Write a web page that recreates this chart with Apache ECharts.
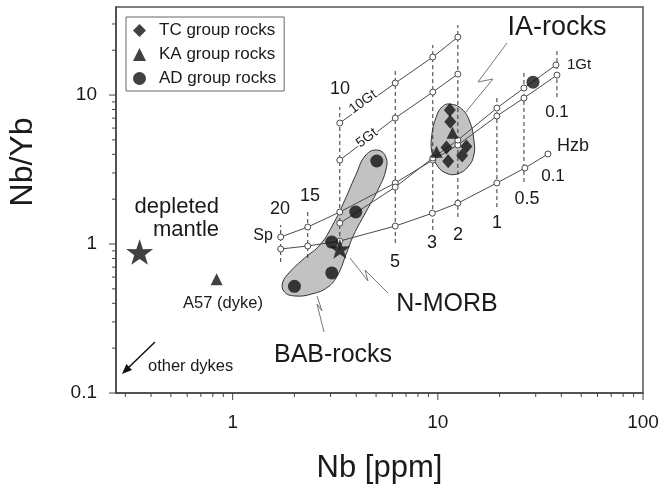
<!DOCTYPE html>
<html><head><meta charset="utf-8">
<script src="https://cdn.jsdelivr.net/npm/echarts@6/dist/echarts.min.js"></script>
<style>html,body{margin:0;padding:0;background:#fff}#c{width:664px;height:490px}</style>
</head><body><div id="c"></div>
<script>
const FONT = '"Liberation Sans", Arial, Helvetica, sans-serif';
const INK = '#1a1a1a';

// ---- sample data: [Nb ppm, Nb/Yb] ----
const tcRocks = [[11.44,7.93],[11.5,6.62],[11.02,4.44],[13.77,4.51],[13.14,3.93],[11.23,3.59]];
const kaRocks = [[11.8,5.58],[9.86,4.16],[0.835,0.58]];
const adRocks = [[2.0,0.52],[3.04,0.64],[3.04,1.03],[3.98,1.64],[5.04,3.61],[29.1,12.2]];
const depletedMantle = [[0.352,0.884]];
const nMorb = [[3.33,0.93]];

// ---- melting model curves ----
const spCurve   = [[1.714,1.114],[2.322,1.30],[3.327,1.64],[6.2,2.57],[9.45,3.66],[12.52,4.62],[19.4,7.23],[26.28,9.55],[38.07,13.62]];
const gt1Curve  = [[3.327,1.38],[6.2,2.41],[9.45,3.78],[12.52,4.99],[19.4,8.18],[26.28,11.14],[37.63,15.9]];
const gt5Curve  = [[3.327,3.66],[6.2,7.01],[9.45,10.47],[12.52,13.83]];
const gt10Curve = [[3.327,6.49],[6.2,12.04],[9.45,17.99],[12.52,24.51]];
const hzbCurve  = [[1.714,0.926],[2.322,0.97],[3.327,1.047],[6.2,1.32],[9.4,1.61],[12.52,1.88],[19.4,2.57],[26.57,3.24],[34.4,4.02]];

// melt-fraction (%) iso-lines: Nb position and Nb/Yb span
const meltFractions = ['20','15','10','5','3','2','1','0.5','0.1'];
const meltNb        = [1.714, 2.322, 3.327, 6.2, 9.45, 12.52, 19.4, 26.28, 38.07];
const meltTop       = [1.34, 1.69, 8.31, 15.18, 21.66, 29.5, 10.0, 14.72, 20.67];
const meltBottom    = [0.757, 0.805, 0.912, 1.016, 1.24, 1.52, 1.77, 2.61, 9.69];

// field outlines
const babField = [[5.10,4.27],[5.58,3.84],[5.58,3.14],[5.10,2.30],[4.46,1.64],[3.89,1.15],[3.56,0.844],[3.25,0.619],[2.91,0.514],[2.43,0.462],[2.01,0.448],[1.79,0.476],[1.75,0.547],[1.90,0.649],[2.24,0.805],[2.66,0.985],[3.07,1.34],[3.52,1.97],[3.98,2.90],[4.46,3.96]];
const iaField  = [[11.44,8.70],[13.09,8.05],[14.33,6.59],[14.98,4.99],[14.98,3.96],[14.01,3.29],[12.38,2.95],[10.94,3.00],[9.89,3.39],[9.35,4.14],[9.35,5.39],[9.78,7.01],[10.46,8.31]];

// axes
const xMin = 0.27, xMax = 100, yMin = 0.1, yMax = 39;
const xMajorTicks = [1, 10, 100];
const xMinorTicks = [0.3,0.4,0.5,0.6,0.7,0.8,0.9,2,3,4,5,6,7,8,9,20,30,40,50,60,70,80,90];
const yMajorTicks = [0.1, 1, 10];
const yMinorTicks = [0.2,0.3,0.4,0.5,0.6,0.7,0.8,0.9,2,3,4,5,6,7,8,9,20,30];

const STAR = 'path://M50,0 L61.8,35.1 L97.6,34.5 L69,56.7 L79.4,90.5 L50,70 L20.6,90.5 L31,56.7 L2.4,34.5 L38.2,35.1 Z';

function logFmt(v){
  const l = Math.log10(v);
  if (Math.abs(l - Math.round(l)) > 1e-6) return '';
  const r = Math.round(l);
  return r < 0 ? '0.' + '0'.repeat(-r - 1) + '1' : String(Math.pow(10, r));
}

const tickData = [];
xMinorTicks.forEach(v => tickData.push([v, yMin, 0]));
xMajorTicks.forEach(v => tickData.push([v, yMin, 1]));
yMinorTicks.forEach(v => tickData.push([xMin, v, 2]));
yMajorTicks.forEach(v => tickData.push([xMin, v, 3]));

function fieldSeries(outline){
  return {
    type:'custom', coordinateSystem:'cartesian2d', silent:true, z:1, clip:false,
    encode:{x:0, y:1}, data:[outline[0]],
    renderItem(params, api){
      const pts = outline.map(p => api.coord(p));
      return {type:'polygon', shape:{points:pts, smooth:0.45}, style:{fill:'#c2c2c2', stroke:'#333', lineWidth:1}};
    }
  };
}
function curveSeries(data){
  return {type:'line', data, silent:true, z:3, symbol:'circle', symbolSize:6,
    itemStyle:{color:'#fff', borderColor:'#4a4a4a', borderWidth:1},
    lineStyle:{color:'#4a4a4a', width:1}, animation:false};
}
const dashSeries = meltNb.map((nb, i) => ({
  type:'line', silent:true, z:2, symbol:'none', animation:false,
  data:[[nb, meltBottom[i]], [nb, meltTop[i]]],
  lineStyle:{color:'#333', width:1, type:[4,3]}
}));

function txt(x, y, s, size, extra){
  return Object.assign({type:'text', x, y, silent:true, z:50,
    style:Object.assign({text:s, fontSize:size, fontFamily:FONT, fill:INK, align:'center', verticalAlign:'middle'}, extra && extra.style || {})},
    extra && extra.el || {});
}
function leader(points){
  return {type:'polyline', silent:true, z:40, shape:{points}, style:{stroke:'#777', lineWidth:1, fill:null}};
}

const chart = echarts.init(document.getElementById('c'), null, {renderer:'canvas'});
chart.setOption({
  animation:false,
  backgroundColor:'#fff',
  grid:{left:116, right:21, top:7, bottom:97, show:true, borderColor:'#555', borderWidth:1.5, outerBoundsMode:'none'},
  legend:{
    data:['TC group rocks','KA group rocks','AD group rocks'],
    orient:'vertical', left:126, top:17, selectedMode:false,
    borderColor:'#666', borderWidth:1, padding:[5,8,4,7], itemGap:7,
    itemWidth:13, itemHeight:13,
    textStyle:{fontSize:17, color:INK, fontFamily:FONT, padding:[0,0,0,8]}
  },
  xAxis:{type:'log', logBase:10, min:xMin, max:xMax,
    name:'Nb [ppm]', nameLocation:'middle', nameGap:60,
    nameTextStyle:{fontSize:31, color:INK, fontFamily:FONT},
    axisLine:{lineStyle:{color:'#444', width:1.5}}, axisTick:{show:false}, splitLine:{show:false},
    axisLabel:{formatter:logFmt, fontSize:19, color:INK, fontFamily:FONT, margin:20}},
  yAxis:{type:'log', logBase:10, min:yMin, max:yMax,
    axisLine:{lineStyle:{color:'#444', width:1.5}}, axisTick:{show:false}, splitLine:{show:false},
    axisLabel:{formatter:logFmt, fontSize:19, color:INK, fontFamily:FONT, margin:19}},
  series:[
    fieldSeries(babField),
    fieldSeries(iaField),
    ...dashSeries,
    curveSeries(spCurve), curveSeries(gt1Curve), curveSeries(gt5Curve), curveSeries(gt10Curve), curveSeries(hzbCurve),
    {type:'custom', coordinateSystem:'cartesian2d', silent:true, clip:false, z:5, encode:{x:0,y:1}, data:tickData,
      renderItem(params, api){
        const k = api.value(2);
        const p = api.coord([api.value(0), api.value(1)]);
        const len = (k === 1 || k === 3) ? 7 : 4;
        const shape = k < 2 ? {x1:p[0], y1:p[1], x2:p[0], y2:p[1] + len} : {x1:p[0], y1:p[1], x2:p[0] - len, y2:p[1]};
        return {type:'line', shape, style:{stroke:'#444', lineWidth:1}};
      }},
    {name:'TC group rocks', type:'scatter', z:10, symbol:'diamond', symbolSize:[12,14], itemStyle:{color:'#111'}, data:tcRocks},
    {name:'KA group rocks', type:'scatter', z:10, symbol:'triangle', symbolSize:12, itemStyle:{color:'#111'}, data:kaRocks},
    {name:'AD group rocks', type:'scatter', z:10, symbol:'circle', symbolSize:13, itemStyle:{color:'#111'}, data:adRocks},
    {type:'scatter', z:10, symbol:STAR, symbolKeepAspect:true, symbolSize:27, itemStyle:{color:'#111'}, data:depletedMantle},
    {type:'scatter', z:10, symbol:STAR, symbolKeepAspect:true, symbolSize:21, itemStyle:{color:'#111'}, data:nMorb}
  ],
  graphic:[
    txt(23, 162, 'Nb/Yb', 32, {el:{rotation:Math.PI/2}}),
    txt(557, 28, 'IA-rocks', 27),
    txt(447, 304, 'N-MORB', 25),
    txt(333, 355, 'BAB-rocks', 25),
    txt(219, 207, 'depleted', 22, {style:{align:'right'}}),
    txt(219, 230, 'mantle', 22, {style:{align:'right'}}),
    txt(223, 303, 'A57 (dyke)', 16.5),
    txt(148, 366, 'other dykes', 16.5, {style:{align:'left'}}),
    txt(263, 236, 'Sp', 16),
    txt(280, 209, '20', 18),
    txt(310, 196, '15', 18),
    txt(340, 89, '10', 18),
    txt(363, 102, '10Gt', 14, {el:{rotation:0.63}, style:{backgroundColor:'#fff', padding:[0,1]}}),
    txt(367, 138, '5Gt', 14, {el:{rotation:0.65}, style:{backgroundColor:'#fff', padding:[0,1]}}),
    txt(395, 262, '5', 18),
    txt(432, 243, '3', 18),
    txt(458, 235, '2', 18),
    txt(497, 223, '1', 18),
    txt(527, 199, '0.5', 18),
    txt(553, 176, '0.1', 17),
    txt(573, 146, 'Hzb', 18),
    txt(557, 112, '0.1', 17),
    txt(579, 65, '1Gt', 15),
    leader([[507,43],[478,82],[493,79],[465,113]]),
    leader([[350,258],[368,281],[365,270],[388,293]]),
    leader([[317,296],[322,311],[317,304],[324,332]]),
    {type:'line', silent:true, z:40, shape:{x1:155, y1:342, x2:127, y2:369}, style:{stroke:'#111', lineWidth:1.5}},
    {type:'polygon', silent:true, z:40, shape:{points:[[122,374],[132,369.9],[126.4,364.1]]}, style:{fill:'#111'}}
  ]
});
</script></body></html>
